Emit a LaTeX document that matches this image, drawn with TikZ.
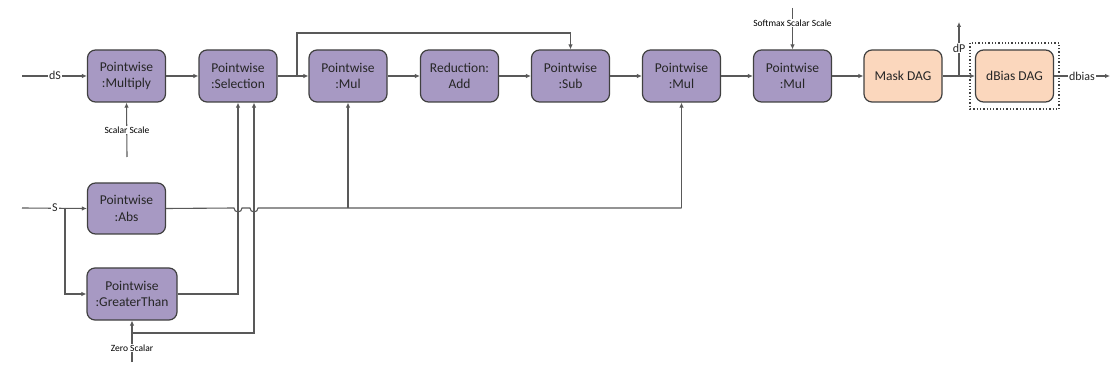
\documentclass[tikz,border=0pt]{standalone}
\usepackage{fontspec}
\setmainfont{Carlito}
\usetikzlibrary{arrows.meta}
\definecolor{pfill}{HTML}{A799C3}
\definecolor{ofill}{HTML}{FBD7BD}
\definecolor{bord}{HTML}{404040}
\definecolor{wire}{HTML}{595959}
\definecolor{txt}{HTML}{262626}
\tikzset{
  opbox/.style={draw=bord, line width=1.2pt, fill=pfill, rounded corners=8pt,
    minimum width=78pt, minimum height=52pt, align=center, inner sep=1pt,
    font=\fontsize{13.5}{16.5}\selectfont, text=txt},
  dagbox/.style={opbox, fill=ofill},
  wirel/.style={draw=wire, line width=1.1pt},
  arr/.style={wirel, -{Latex[length=5pt,width=4.5pt]}},
  lbl/.style={fill=white, inner sep=1pt, font=\fontsize{12}{14}\selectfont, text=txt},
  slbl/.style={fill=white, inner sep=1pt, font=\fontsize{9.5}{11}\selectfont, text=black}
}
\begin{document}
\begin{tikzpicture}[x=1pt,y=-1pt]
\useasboundingbox (0,0) rectangle (1117,374);
% row 1
\node[opbox] (mult) at (126.5,76) {Pointwise\\:Multiply};
\node[opbox] (sel) at (238,76) {Pointwise\\:Selection};
\node[opbox] (mul1) at (348,76) {Pointwise\\:Mul};
\node[opbox] (red) at (459.5,76) {Reduction:\\Add};
\node[opbox] (sub) at (570.5,76) {Pointwise\\:Sub};
\node[opbox] (mul2) at (681.5,76) {Pointwise\\:Mul};
\node[opbox] (mul3) at (792.5,76) {Pointwise\\:Mul};
\node[dagbox] (mask) at (903,76) {Mask DAG};
\node[dagbox] (dbias) at (1014.5,76) {dBias DAG};
\draw[bord, line width=1.3pt, dotted] (970,43) rectangle (1059,109);
% row 2
\node[opbox, minimum height=51pt] (abs) at (126.5,208.5) {Pointwise\\:Abs};
\node[opbox, minimum width=90pt] (gt) at (132,294) {Pointwise\\:GreaterThan};

% input coordinates
\coordinate (dsin) at (22,76);
\coordinate (sin) at (22,208);
\coordinate (sbr) at (65,208);
\coordinate (ssin) at (127,157);
\coordinate (zin) at (132,362);
\coordinate (zbr) at (132,333);
\coordinate (smin) at (792.5,8);
\coordinate (selbr) at (297,76);
\coordinate (dpbr) at (959,76);
\coordinate (dpout) at (959,22);
\coordinate (dbout) at (1110,76);
\coordinate (absj) at (348,208);

% dS
\draw[arr] (dsin) -- (mult.west);
\node[lbl] at (55,75) {dS};
% scalar scale
\draw[arr] (ssin) -- (mult.south);
\node[slbl] at (127,130) {Scalar Scale};
% chain
\draw[arr] (mult) -- (sel);
\draw[arr] (sel) -- (mul1);
\draw[arr] (mul1) -- (red);
\draw[arr] (red) -- (sub);
\draw[arr] (sub) -- (mul2);
\draw[arr] (mul2) -- (mul3);
\draw[arr] (mul3) -- (mask);
\draw[arr] (mask) -- (dbias);
% bypass to sub
\draw[arr] (selbr) -- (selbr |- 0,33) -- (sub.north |- 0,33) -- (sub.north);
% softmax
\draw[arr] (smin) -- (mul3.north);
\node[slbl] at (792.5,23) {Softmax Scalar Scale};
% dP
\draw[arr] (dpbr) -- (dpout);
\node[lbl] at (959,48) {dP};
% dbias out
\draw[arr] (dbias) -- (dbout);
\node[lbl] at (1082,76) {dbias};
% S input
\draw[arr] (sin) -- (abs.west);
\node[lbl] at (55,208) {S};
\draw[arr] (sbr) |- (gt.west);
% zero scalar
\draw[arr] (zin) -- (gt.south);
\node[slbl] at (132,348) {Zero Scalar};
\draw[arr] (zbr) -- (254,333) -- (254,0 |- sel.south);
% greater than to selection
\draw[arr] (gt.east) -- (238,294) -- (sel.south);
% abs output with hops
\draw[wirel] (abs.east) -- (234,208) arc[start angle=180,end angle=0,radius=4] -- (250,208)
  arc[start angle=180,end angle=0,radius=4] -- (681.5,208);
\draw[arr] (absj) -- (mul1.south);
\draw[arr] (681.5,208) -- (mul2.south);
\end{tikzpicture}
\end{document}
